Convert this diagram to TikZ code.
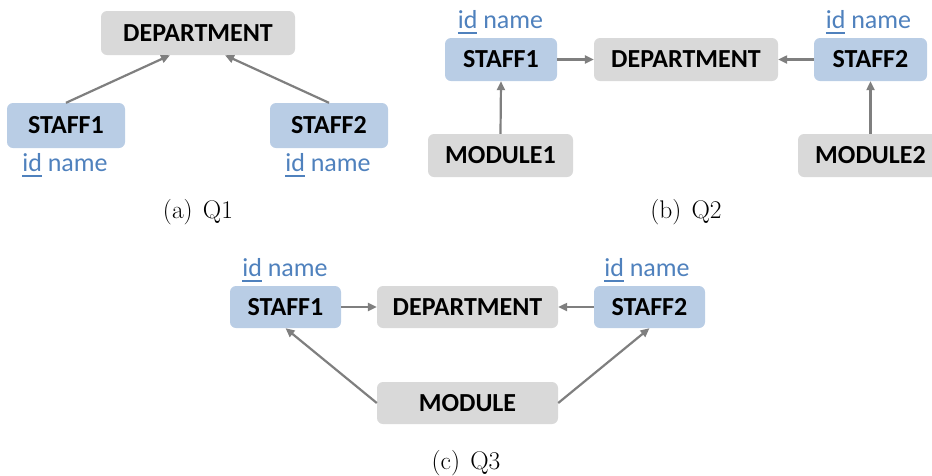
\documentclass[tikz,border=0pt]{standalone}
\usepackage{fontspec}
\newfontfamily\calibri{Carlito}
\usetikzlibrary{arrows.meta,calc}
\definecolor{boxblue}{HTML}{B9CDE5}
\definecolor{boxgray}{HTML}{D9D9D9}
\definecolor{attrblue}{HTML}{4F81BD}
\definecolor{linkgray}{HTML}{7F7F7F}
% key attribute: text with a thick underline in the text colour
\newcommand\keyattr[1]{\leavevmode\setbox0\hbox{#1}\rlap{\rule[-6pt]{\wd0}{2pt}}\box0\relax}
\begin{document}
\begin{tikzpicture}[x=1pt,y=-1pt,
  entity/.style={rounded corners=6pt, inner sep=0pt, minimum height=43pt,
    font=\calibri\bfseries\fontsize{26}{30}\selectfont, text=black},
  bluebox/.style={entity, fill=boxblue},
  graybox/.style={entity, fill=boxgray},
  attrs/.style={font=\calibri\fontsize{26}{30}\selectfont, text=attrblue,
    inner sep=0pt, anchor=base},
  capt/.style={font=\fontsize{25.5}{30}\selectfont, inner sep=0pt, anchor=base},
  link/.style={draw=linkgray, line width=2.2pt, -{Triangle[length=9pt,width=8pt]}}
]
\useasboundingbox (0,0) rectangle (932,475);
\clip (0,0) rectangle (932,475);

% ---------- (a) Q1 ----------
\node[graybox, minimum width=194pt, minimum height=44pt] (dA) at (198,33) {DEPARTMENT};
\node[bluebox, minimum width=118pt, minimum height=45pt] (s1A) at (66,125.5) {STAFF1};
\node[bluebox, minimum width=118pt, minimum height=45pt] (s2A) at (329,125.5) {STAFF2};
\node[attrs] (t1A) at (65,171) {\keyattr{id} name};
\node[attrs] (t2A) at (328,171) {\keyattr{id} name};
\draw[link] (s1A.north) -- ([xshift=-28pt]dA.south);
\draw[link] (s2A.north) -- ([xshift=27pt]dA.south);
\node[capt] (capA) at (198,218) {(a)\hspace{0.4em}Q1};

% ---------- (b) Q2 ----------
\node[bluebox, minimum width=112pt] (s1B) at (501,59.5) {STAFF1};
\node[graybox, minimum width=184pt] (dB) at (686,59.5) {DEPARTMENT};
\node[bluebox, minimum width=113pt] (s2B) at (870.5,59.5) {STAFF2};
\node[graybox, minimum width=145pt] (m1B) at (500.5,155.5) {MODULE1};
\node[graybox, minimum width=145pt] (m2B) at (870.5,155.5) {MODULE2};
\node[attrs] (t1B) at (500.5,28) {\keyattr{id} name};
\node[attrs] (t2B) at (868.5,28) {\keyattr{id} name};
\draw[link] (s1B.east) -- (dB.west);
\draw[link] (s2B.west) -- (dB.east);
\draw[link] (m1B.north) -- (s1B.south);
\draw[link] (m2B.north) -- (s2B.south);
\node[capt] (capB) at (686,218) {(b)\hspace{0.4em}Q2};

% ---------- (c) Q3 ----------
\node[bluebox, minimum width=111pt, minimum height=42pt] (s1C) at (285.5,307) {STAFF1};
\node[graybox, minimum width=181pt, minimum height=42pt] (dC) at (467.5,307) {DEPARTMENT};
\node[bluebox, minimum width=111pt, minimum height=42pt] (s2C) at (649.5,307) {STAFF2};
\node[graybox, minimum width=181pt, minimum height=42pt] (mC) at (467.5,403) {MODULE};
\node[attrs] (t1C) at (285,276) {\keyattr{id} name};
\node[attrs] (t2C) at (647,276) {\keyattr{id} name};
\draw[link] (s1C.east) -- (dC.west);
\draw[link] (s2C.west) -- (dC.east);
\draw[link] (mC.west) -- (s1C.south);
\draw[link] (mC.east) -- (s2C.south);
\node[capt] (capC) at (466,469) {(c)\hspace{0.4em}Q3};
\end{tikzpicture}
\end{document}
